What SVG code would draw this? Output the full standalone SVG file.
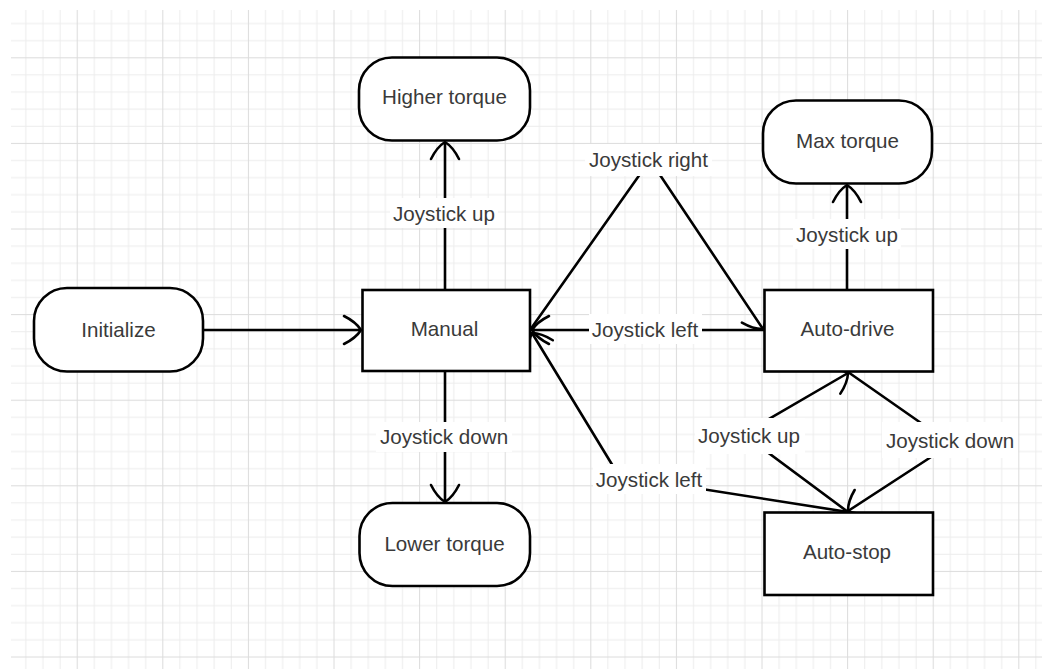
<svg xmlns="http://www.w3.org/2000/svg" width="1042" height="669" viewBox="0 0 1042 669">
  <defs>
    <style>
      .node { fill: #ffffff; stroke: #000000; stroke-width: 2.6; }
      .edge { fill: none; stroke: #000000; stroke-width: 2.6; stroke-linejoin: round; }
      .txt { font-family: "Liberation Sans", Arial, Helvetica, sans-serif; font-size: 20.6px; fill: #3a3a3a; text-anchor: middle; }
      .lblbg { fill: #ffffff; stroke: none; }
    </style>
    <pattern id="grid" patternUnits="userSpaceOnUse" x="-8.9" y="-28.3" width="85.6" height="85.6">
      <rect x="0" y="0" width="85.6" height="85.6" fill="#ffffff"/>
      <g fill="#ededed">
        <rect x="17.12" y="0" width="1" height="85.6"/>
        <rect x="34.24" y="0" width="1" height="85.6"/>
        <rect x="51.36" y="0" width="1" height="85.6"/>
        <rect x="68.48" y="0" width="1" height="85.6"/>
        <rect x="0" y="17.12" width="85.6" height="1"/>
        <rect x="0" y="34.24" width="85.6" height="1"/>
        <rect x="0" y="51.36" width="85.6" height="1"/>
        <rect x="0" y="68.48" width="85.6" height="1"/>
      </g>
      <g fill="#dcdcdc">
        <rect x="0" y="0" width="1" height="85.6"/>
        <rect x="0" y="0" width="85.6" height="1"/>
      </g>
    </pattern>
    <marker id="open" markerUnits="userSpaceOnUse" viewBox="-20 -20 40 40" markerWidth="40" markerHeight="40" refX="0" refY="0" orient="auto" overflow="visible">
      <path d="M-17,-14 Q-5,-8 0,0 Q-5,8 -17,14" fill="none" stroke="#000000" stroke-width="2.6" stroke-linecap="round"/>
    </marker>
  </defs>

  <!-- page background with drawing grid -->
  <rect x="0" y="0" width="1042" height="669" fill="#ffffff"/>
  <rect x="11" y="10" width="1031" height="659" fill="url(#grid)"/>

  <!-- transitions -->
  <g id="connectors">
    <path class="edge" d="M203,330 L361,330" marker-end="url(#open)"/>
    <path class="edge" d="M445,290 L445,142" marker-end="url(#open)"/>
    <path class="edge" d="M445,371 L445,502" marker-end="url(#open)"/>
    <path class="edge" d="M847,290 L847,185" marker-end="url(#open)"/>
    <path class="edge" d="M764,330 L532,330" marker-end="url(#open)"/>
    <path class="edge" d="M530,330 L650,160 L763,329" marker-end="url(#open)"/>
    <path class="edge" d="M848,512 L619,476 L532,333" marker-end="url(#open)"/>
    <path class="edge" d="M848,512 L743,434 L848,373" marker-end="url(#open)"/>
    <path class="edge" d="M848,372 L951,444 L848,511" marker-end="url(#open)"/>

    <rect class="lblbg" x="390" y="198" width="108" height="30"/>
    <text class="txt" x="444" y="220.5">Joystick up</text>

    <rect class="lblbg" x="376" y="422" width="136" height="30"/>
    <text class="txt" x="444" y="444">Joystick down</text>

    <rect class="lblbg" x="793" y="219" width="108" height="30"/>
    <text class="txt" x="847" y="241.5">Joystick up</text>

    <rect class="lblbg" x="589" y="314" width="113" height="30"/>
    <text class="txt" x="645" y="336.5">Joystick left</text>

    <rect class="lblbg" x="585" y="144" width="127" height="32"/>
    <text class="txt" x="648.5" y="166.5">Joystick right</text>

    <rect class="lblbg" x="593" y="464" width="113" height="30"/>
    <text class="txt" x="649" y="486.5">Joystick left</text>

    <rect class="lblbg" x="695" y="418" width="110" height="36"/>
    <text class="txt" x="749" y="443">Joystick up</text>

    <rect class="lblbg" x="882" y="422" width="136" height="36"/>
    <text class="txt" x="950" y="447.5">Joystick down</text>
  </g>

  <!-- states -->
  <g id="initialize">
    <rect class="node" x="34" y="288" width="169" height="83.5" rx="33" ry="33"/>
    <text class="txt" x="118.5" y="336.5">Initialize</text>
  </g>
  <g id="manual">
    <rect class="node" x="362.5" y="290" width="167.5" height="81"/>
    <text class="txt" x="444.5" y="336">Manual</text>
  </g>
  <g id="higher-torque">
    <rect class="node" x="359" y="57.5" width="171" height="83" rx="33" ry="33"/>
    <text class="txt" x="444.5" y="104">Higher torque</text>
  </g>
  <g id="lower-torque">
    <rect class="node" x="359.5" y="503" width="170.5" height="83" rx="33" ry="33"/>
    <text class="txt" x="444.5" y="551">Lower torque</text>
  </g>
  <g id="max-torque">
    <rect class="node" x="763" y="100.5" width="169" height="83" rx="33" ry="33"/>
    <text class="txt" x="847.5" y="147.5">Max torque</text>
  </g>
  <g id="auto-drive">
    <rect class="node" x="764.5" y="290" width="168.5" height="81.5"/>
    <text class="txt" x="847.5" y="336">Auto-drive</text>
  </g>
  <g id="auto-stop">
    <rect class="node" x="764.5" y="512.5" width="168.5" height="82.5"/>
    <text class="txt" x="847" y="559">Auto-stop</text>
  </g>
</svg>
